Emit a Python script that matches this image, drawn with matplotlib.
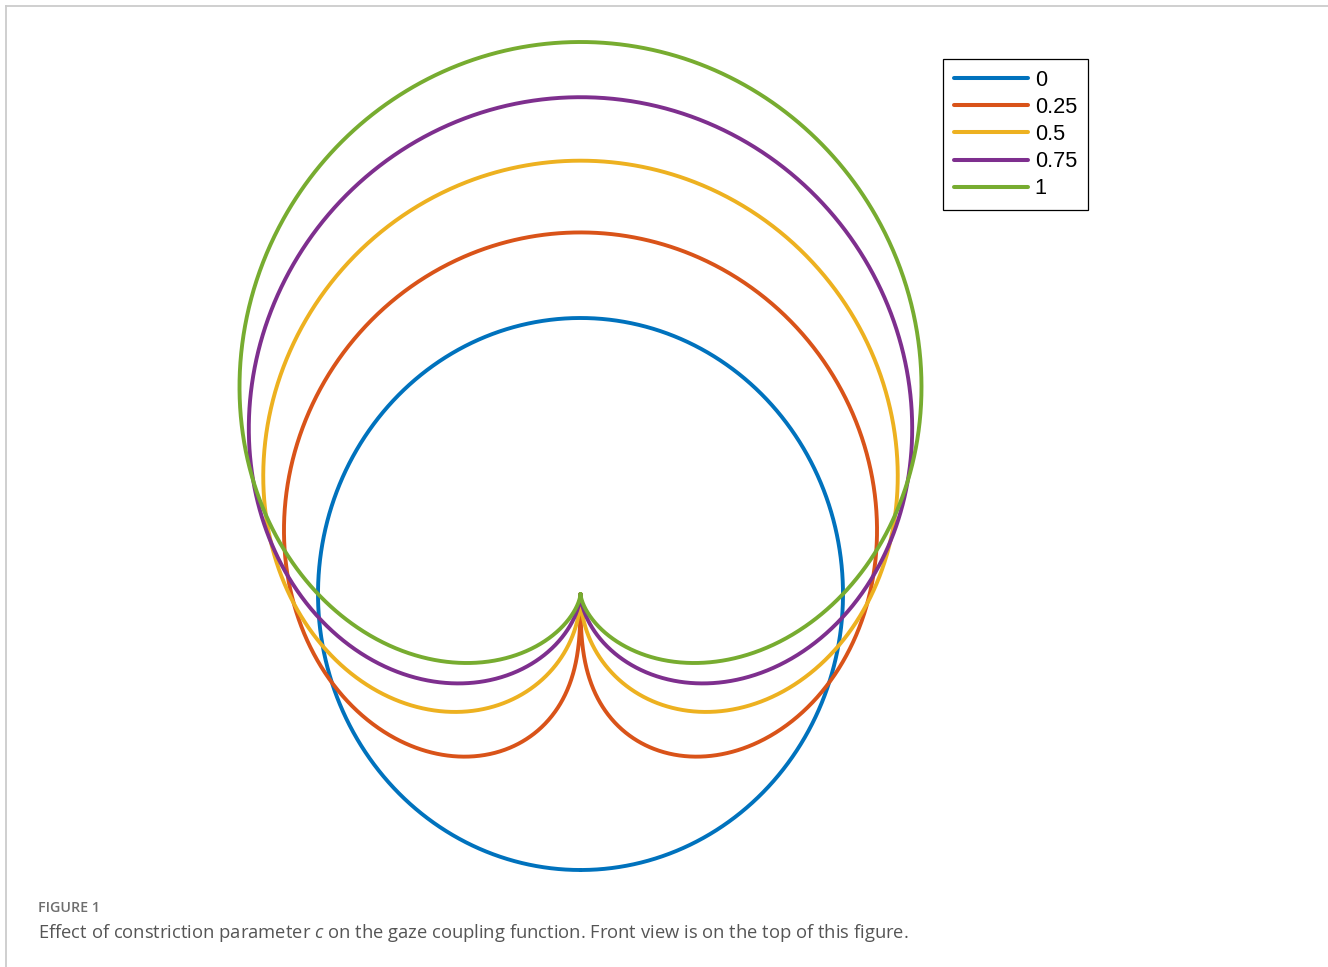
import numpy as np
import matplotlib
matplotlib.use("Agg")
import matplotlib.pyplot as plt
from matplotlib.lines import Line2D

# Constriction parameter values and the peak (frontal) gain of each curve
c_values = [0, 0.25, 0.5, 0.75, 1]
peak_gain = [1.0, 1.31, 1.57, 1.80, 2.0]
labels = ["0", "0.25", "0.5", "0.75", "1"]
colors = ["#0072BD", "#D95319", "#EDB120", "#7E2F8E", "#77AC30"]

W, H, DPI = 1328, 967, 100
fig = plt.figure(figsize=(W / DPI, H / DPI), dpi=DPI)

# axes placed so that one unit spans 262.5 px horizontally and 276 px vertically
cx, cy = 580.5, 594.0
sx, sy = 262.5, 276.0
xlim = (-2.0, 2.0)
ylim = (-1.15, 2.1)
ax_w = (xlim[1] - xlim[0]) * sx
ax_h = (ylim[1] - ylim[0]) * sy
ax_left = cx + xlim[0] * sx
ax_top = cy - ylim[1] * sy
ax = fig.add_axes([ax_left / W, 1 - (ax_top + ax_h) / H, ax_w / W, ax_h / H])
ax.set_xlim(*xlim)
ax.set_ylim(*ylim)
ax.axis("off")

theta = np.linspace(-np.pi, np.pi, 2001)
for c, g, lab, col in zip(c_values, peak_gain, labels, colors):
    r = g * np.abs(np.cos(theta / 2)) ** (2 * c)
    ax.plot(r * np.sin(theta), r * np.cos(theta), color=col, lw=2.8,
            label=lab, solid_capstyle="round")

leg = fig.legend(loc="upper right", bbox_to_anchor=(1088 / W, 1 - 59 / H),
                 bbox_transform=fig.transFigure, frameon=True, fancybox=False,
                 edgecolor="black", framealpha=1,
                 prop={"family": "Liberation Sans", "size": 15.7},
                 handlelength=3.4, handletextpad=0.33, labelspacing=0.28,
                 borderpad=0.5, borderaxespad=0)
leg.get_frame().set_linewidth(0.9)
for h in leg.get_lines():
    h.set_linewidth(2.9)

# page frame lines
fig.add_artist(Line2D([6 / W, 1], [1 - 6 / H, 1 - 6 / H], transform=fig.transFigure,
                      color="#cccccc", lw=1.3))
fig.add_artist(Line2D([6 / W, 6 / W], [1 - 6 / H, 0], transform=fig.transFigure,
                      color="#cccccc", lw=1.3))

plt.rcParams["mathtext.fontset"] = "custom"
plt.rcParams["mathtext.rm"] = "Open Sans"
plt.rcParams["mathtext.it"] = "Open Sans:italic"

fig.text(38 / W, 1 - 908 / H, "FIGURE 1", family="Open Sans", weight="semibold",
         fontsize=10.3, color="#6e6e6e", va="center", ha="left")
cap = fig.text(38 / W, 1 - 933 / H,
               "Effect of constriction parameter $c$ on the gaze coupling function. "
               "Front view is on the top of this figure.",
               family="Open Sans", fontsize=10.5, color="#555555", va="center", ha="left")

# size the caption to its measured line length
fig.canvas.draw()
bb = cap.get_window_extent()
cap.set_fontsize(10.5 * 874 / bb.width)

fig.savefig("out.png", dpi=DPI, facecolor="white")
